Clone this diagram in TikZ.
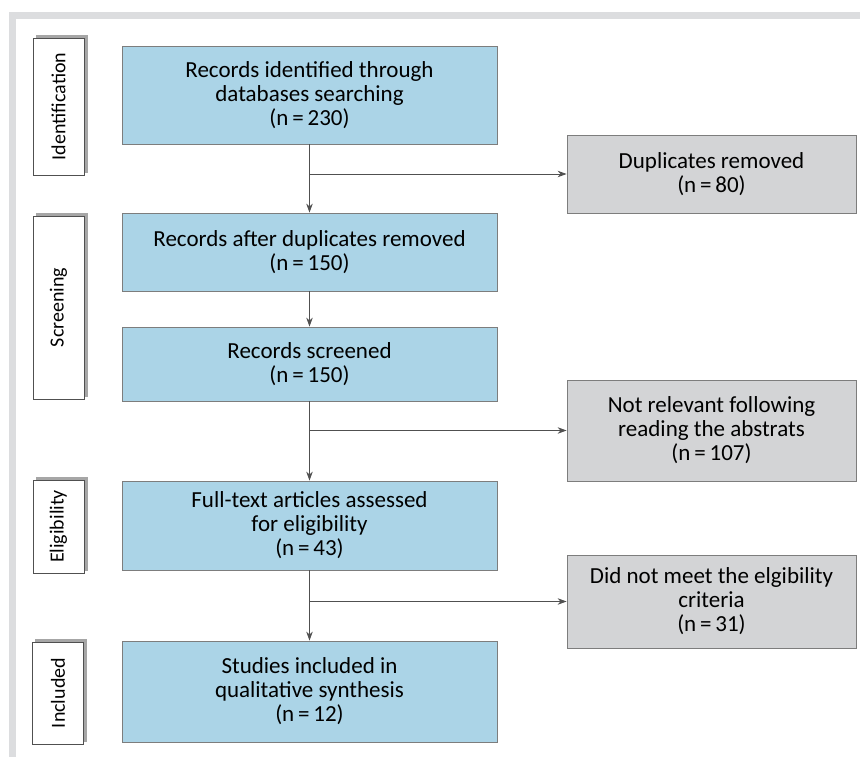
\documentclass[tikz,border=0pt]{standalone}
\usepackage{fontspec}
\setmainfont{Carlito}
\usetikzlibrary{arrows.meta,shadows}

\definecolor{boxblue}{HTML}{ABD4E7}
\definecolor{boxgray}{HTML}{D3D4D6}
\definecolor{framegray}{HTML}{DCDDDF}
\definecolor{linegray}{HTML}{7D7D7D}
\definecolor{arrowgray}{HTML}{505050}

\begin{document}
\begin{tikzpicture}[x=1pt,y=-1pt,
    mainbox/.style={draw=linegray, line width=0.8pt, fill=boxblue, minimum width=375pt,
      align=center, inner sep=0pt, font=\fontsize{23}{24}\selectfont},
    sidebox/.style={draw=linegray, line width=0.8pt, fill=boxgray, minimum width=289pt,
      align=center, inner sep=0pt, font=\fontsize{23}{24}\selectfont},
    stagebox/.style={draw=arrowgray, line width=0.7pt, fill=white, minimum width=51pt, inner sep=0pt,
      copy shadow={shadow xshift=3pt, shadow yshift=3pt, draw=gray!70, fill=gray!70}},
    stagetext/.style={rotate=90, inner sep=0pt, font=\fontsize{20}{22}\selectfont},
    flow/.style={draw=arrowgray, line width=0.9pt, -{Stealth[length=9pt,width=6.5pt]}}
  ]
    \useasboundingbox (0,0) rectangle (860,757);
    \fill[white] (0,0) rectangle (860,757);

    % frame
    \fill[framegray] (9,12) rectangle (860,19);
    \fill[framegray] (9,12) rectangle (16,757);

    % stages
    \node[stagebox, minimum height=137pt] (sid) at (58.5,106.5) {};
    \node[stagetext] (sidt) at (sid) {Identification};
    \node[stagebox, minimum height=183pt] (sscr) at (58.5,307.5) {};
    \node[stagetext] (sscrt) at (sscr) {Screening};
    \node[stagebox, minimum height=93pt] (selig) at (58.5,526.5) {};
    \node[stagetext] (seligt) at (selig) {Eligibility};
    \node[stagebox, minimum height=102pt] (sinc) at (58, 693) {};
    \node[stagetext] (sinct) at (sinc) {Included};

    % main column
    \node[mainbox, minimum height=98pt] (ident) at (309.5,95)
      {Records identified through\\databases searching\\(n\,=\,230)};
    \node[mainbox, minimum height=78pt] (dupl) at (309.5,252)
      {Records after duplicates removed\\(n\,=\,150)};
    \node[mainbox, minimum height=74pt] (scr) at (309.5,364)
      {Records screened\\(n\,=\,150)};
    \node[mainbox, minimum height=89pt] (full) at (309.5,525.5)
      {Full-text articles assessed\\for eligibility\\(n\,=\,43)};
    \node[mainbox, minimum height=101pt] (incl) at (309.5,691.5)
      {Studies included in\\qualitative synthesis\\(n\,=\,12)};

    % excluded
    \node[sidebox, minimum height=78pt] (rem) at (711.5,174)
      {Duplicates removed\\(n\,=\,80)};
    \node[sidebox, minimum height=101pt] (abst) at (711.5,430.5)
      {Not relevant following\\reading the abstrats\\(n\,=\,107)};
    \node[sidebox, minimum height=93pt] (crit) at (711.5,601.5)
      {Did not meet the elgibility\\criteria\\(n\,=\,31)};

    % branch points
    \coordinate (b1) at (ident.south |- rem.west);
    \coordinate (b2) at (scr.south |- abst.west);
    \coordinate (b3) at (full.south |- crit.west);

    % arrows
    \draw[flow] (ident.south) -- (dupl.north);
    \draw[flow] (b1) -- (rem.west);
    \draw[flow] (dupl.south) -- (scr.north);
    \draw[flow] (scr.south) -- (full.north);
    \draw[flow] (b2) -- (abst.west);
    \draw[flow] (full.south) -- (incl.north);
    \draw[flow] (b3) -- (crit.west);
\end{tikzpicture}
\end{document}
